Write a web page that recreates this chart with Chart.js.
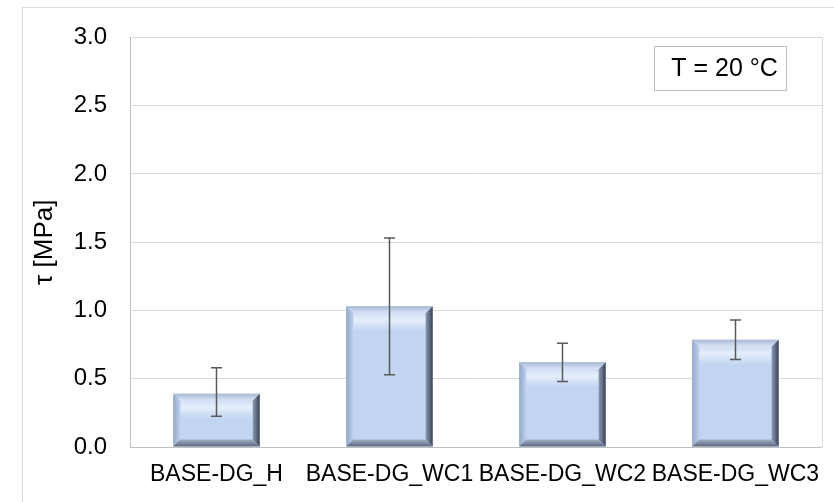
<!DOCTYPE html>
<html>
<head>
<meta charset="utf-8">
<script src="https://cdn.jsdelivr.net/npm/chart.js@4"></script>
<style>
    html, body { margin: 0; padding: 0; background: #fff; }
    #wrap { width: 834px; height: 502px; position: relative; }
</style>
</head>
<body>
<div id="wrap"><canvas id="shearChart" width="834" height="502"></canvas></div>
<script>
// Data
const categories = ['BASE-DG_H', 'BASE-DG_WC1', 'BASE-DG_WC2', 'BASE-DG_WC3'];
const tauValues = [0.39, 1.03, 0.62, 0.785];
const errLower = [0.225, 0.53, 0.48, 0.64];
const errUpper = [0.58, 1.53, 0.76, 0.93];
const yTicks = [0, 0.5, 1.0, 1.5, 2.0, 2.5, 3.0];
const noteText = 'T = 20 °C';

const FONT = "'Liberation Sans', Arial, sans-serif";

// Outer chart frame (Excel style)
const framePlugin = {
    id: 'frame',
    beforeDraw(chart) {
        const ctx = chart.ctx;
        ctx.save();
        ctx.fillStyle = '#fff';
        ctx.fillRect(0, 0, chart.width, chart.height);
        ctx.strokeStyle = '#d9d9d9';
        ctx.lineWidth = 1;
        ctx.strokeRect(22.5, 7.5, chart.width + 10, chart.height + 10);
        ctx.restore();
    }
};

// Bevelled bar look
const bevelPlugin = {
    id: 'bevel',
    afterDatasetsDraw(chart) {
        const ctx = chart.ctx;
        const meta = chart.getDatasetMeta(0);
        meta.data.forEach(bar => {
            const p = bar.getProps(['x', 'y', 'base', 'width'], true);
            const l = p.x - p.width / 2, r = p.x + p.width / 2;
            const t = p.y, b = p.base;
            const s = Math.min(7, (b - t) / 3);
            ctx.save();
            // face
            let g = ctx.createLinearGradient(0, t + s, 0, t + s + 18);
            g.addColorStop(0, '#d0def5');
            g.addColorStop(0.35, '#e6eefb');
            g.addColorStop(1, '#c1d4f1');
            ctx.fillStyle = g;
            ctx.fillRect(l + s, t + s, r - l - 2 * s, b - t - 2 * s);
            // top
            ctx.beginPath();
            ctx.moveTo(l, t); ctx.lineTo(r, t); ctx.lineTo(r - s, t + s); ctx.lineTo(l + s, t + s); ctx.closePath();
            g = ctx.createLinearGradient(0, t, 0, t + s);
            g.addColorStop(0, '#a7b8d6');
            g.addColorStop(1, '#dce7f8');
            ctx.fillStyle = g; ctx.fill();
            // left
            ctx.beginPath();
            ctx.moveTo(l, t); ctx.lineTo(l + s, t + s); ctx.lineTo(l + s, b - s); ctx.lineTo(l, b); ctx.closePath();
            g = ctx.createLinearGradient(l, 0, l + s, 0);
            g.addColorStop(0, '#93a7c8');
            g.addColorStop(1, '#bdd0ef');
            ctx.fillStyle = g; ctx.fill();
            // right
            ctx.beginPath();
            ctx.moveTo(r, t); ctx.lineTo(r, b); ctx.lineTo(r - s, b - s); ctx.lineTo(r - s, t + s); ctx.closePath();
            g = ctx.createLinearGradient(r - s, 0, r, 0);
            g.addColorStop(0, '#8a99b3');
            g.addColorStop(1, '#3a4354');
            ctx.fillStyle = g; ctx.fill();
            // bottom
            ctx.beginPath();
            ctx.moveTo(l, b); ctx.lineTo(r, b); ctx.lineTo(r - s, b - s); ctx.lineTo(l + s, b - s); ctx.closePath();
            g = ctx.createLinearGradient(0, b - s, 0, b);
            g.addColorStop(0, '#a0b0ca');
            g.addColorStop(1, '#5d697d');
            ctx.fillStyle = g; ctx.fill();
            ctx.restore();
        });
    }
};

// Error bars from the lower/upper arrays
const errorBarPlugin = {
    id: 'errorBars',
    afterDatasetsDraw(chart) {
        const ctx = chart.ctx;
        const yScale = chart.scales.y;
        const meta = chart.getDatasetMeta(0);
        ctx.save();
        ctx.strokeStyle = '#595959';
        ctx.lineWidth = 1.5;
        meta.data.forEach((bar, i) => {
            const x = Math.round(bar.x) + 0.5;
            const yLo = yScale.getPixelForValue(errLower[i]);
            const yHi = yScale.getPixelForValue(errUpper[i]);
            ctx.beginPath();
            ctx.moveTo(x, yLo); ctx.lineTo(x, yHi);
            ctx.moveTo(x - 5.5, yLo); ctx.lineTo(x + 5.5, yLo);
            ctx.moveTo(x - 5.5, yHi); ctx.lineTo(x + 5.5, yHi);
            ctx.stroke();
        });
        ctx.restore();
    }
};

// "T = 20 °C" note box
const notePlugin = {
    id: 'note',
    afterDraw(chart) {
        const ctx = chart.ctx;
        const a = chart.chartArea;
        const w = 132, h = 44;
        const x = a.right - 36 - w, y = a.top + 9;
        ctx.save();
        ctx.fillStyle = '#fff';
        ctx.fillRect(x, y, w, h);
        ctx.strokeStyle = '#bfbfbf';
        ctx.lineWidth = 1;
        ctx.strokeRect(Math.round(x) + 0.5, Math.round(y) + 0.5, w, h);
        ctx.fillStyle = '#000';
        ctx.font = '25px ' + FONT;
        ctx.textAlign = 'right';
        ctx.textBaseline = 'middle';
        ctx.fillText(noteText, x + w - 8, y + h / 2 + 1);
        ctx.restore();
    }
};

// thin right border of the plot area
const rightBorderPlugin = {
    id: 'rightBorder',
    afterDraw(chart) {
        const ctx = chart.ctx, a = chart.chartArea;
        ctx.save();
        ctx.strokeStyle = '#d9d9d9';
        ctx.lineWidth = 1;
        ctx.beginPath();
        ctx.moveTo(Math.round(a.right) + 0.5, a.top);
        ctx.lineTo(Math.round(a.right) + 0.5, a.bottom);
        ctx.stroke();
        ctx.restore();
    }
};

new Chart(document.getElementById('shearChart'), {
    type: 'bar',
    data: {
        labels: categories,
        datasets: [{
            data: tauValues,
            backgroundColor: '#c1d4f1',
            borderWidth: 0,
            barPercentage: 0.5,
            categoryPercentage: 1.0
        }]
    },
    options: {
        responsive: false,
        animation: false,
        events: [],
        layout: { padding: { left: 29, top: 28, right: 7, bottom: 0 } },
        plugins: {
            legend: { display: false },
            tooltip: { enabled: false }
        },
        scales: {
            x: {
                grid: { display: false, drawTicks: false },
                border: { color: '#bfbfbf', width: 1 },
                ticks: {
                    color: '#000',
                    font: { family: FONT, size: 23 },
                    padding: 14,
                    maxRotation: 0,
                    autoSkip: false
                },
                afterFit(scale) { scale.height = 55; }
            },
            y: {
                min: 0,
                max: 3.0,
                afterBuildTicks(scale) { scale.ticks = yTicks.map(v => ({ value: v })); },
                grid: { color: '#d9d9d9', drawTicks: false },
                border: { color: '#bfbfbf', width: 1 },
                ticks: {
                    color: '#000',
                    font: { family: FONT, size: 24 },
                    padding: 23,
                    callback: v => v.toFixed(1)
                },
                title: {
                    display: true,
                    text: 'τ [MPa]',
                    color: '#000',
                    font: { family: FONT, size: 26 },
                    padding: { top: 0, bottom: 0 }
                },
                afterFit(scale) { scale.width = 101; }
            }
        }
    },
    plugins: [framePlugin, bevelPlugin, errorBarPlugin, notePlugin, rightBorderPlugin]
});
</script>
</body>
</html>
